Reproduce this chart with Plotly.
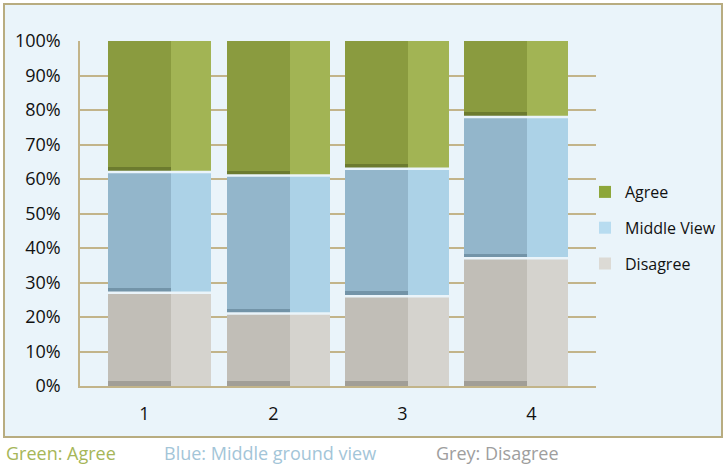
import numpy as np
import plotly.graph_objects as go

categories = ["1", "2", "3", "4"]
disagree = [27, 21, 26, 37]
middle = [35, 40, 37, 41]
agree = [38, 39, 37, 22]
series_names = ["Disagree", "Middle View", "Agree"]
y_ticks = [0, 10, 20, 30, 40, 50, 60, 70, 80, 90, 100]

W, H = 727, 468
L, R, T, B = 80, 131, 41, 82
PW, PH = W - L - R, H - T - B

def fx(px):
    return (px - L) / PW

def fy(py):
    return (H - B - py) / PH

BG = "#eaf4fa"
TAN = "#c2b48a"
face_cols = ["#c1beb7", "#93b6cb", "#8a9b3f"]
side_cols = ["#d5d3ce", "#acd2e7", "#a2b454"]
band_cols = ["#a19e97", "#7394a8", "#6c7b2f"]
legend_cols = ["#dcdad5", "#b8dcf0", "#8da63a"]
BAND = 1.4  # thickness (in %) of the shaded bottom edge of each block

xs = np.arange(1, len(categories) + 1)
vals = [np.array(disagree), np.array(middle), np.array(agree)]
bases = [np.zeros(len(xs)), vals[0], vals[0] + vals[1]]

fig = go.Figure()
face_w, side_w = 0.53, 0.34
face_off = -0.435
side_off = face_off + face_w
for i in range(3):
    fig.add_trace(go.Bar(x=xs, y=vals[i], base=bases[i], width=face_w, offset=face_off,
                         marker=dict(color=face_cols[i], line=dict(width=0)),
                         showlegend=False, hoverinfo="skip", xaxis="x2"))
    fig.add_trace(go.Bar(x=xs, y=np.full(len(xs), BAND), base=bases[i], width=face_w,
                         offset=face_off,
                         marker=dict(color=band_cols[i], line=dict(width=0)),
                         showlegend=False, hoverinfo="skip", xaxis="x2"))
    fig.add_trace(go.Bar(x=xs, y=vals[i], base=bases[i], width=side_w, offset=side_off,
                         marker=dict(color=side_cols[i], line=dict(width=0)),
                         showlegend=False, hoverinfo="skip", xaxis="x2"))

# separators between stacked segments
sx, sy = [], []
for b in bases[1:]:
    for c, v in zip(xs, b):
        sx += [c + face_off - 0.01, c + side_off + side_w + 0.01, None]
        sy += [v, v, None]
fig.add_trace(go.Scatter(x=sx, y=sy, mode="lines", line=dict(color=BG, width=2.5),
                         showlegend=False, hoverinfo="skip", xaxis="x2"))

# legend entries (on the labelled category axis)
for i in [2, 1, 0]:
    fig.add_trace(go.Bar(x=[None], y=[None], name=series_names[i],
                         marker=dict(color=legend_cols[i], line=dict(width=0)),
                         legendgroup=series_names[i]))

fig.add_shape(type="rect", xref="paper", yref="paper",
              x0=fx(4), x1=fx(722), y0=fy(437), y1=fy(4),
              fillcolor=BG, line=dict(color="#b8ac80", width=2), layer="below")

caps = [("Green: Agree", 5, "#a6b658"), ("Blue: Middle ground view", 163, "#a3c5d8"),
        ("Grey: Disagree", 435, "#9e9e9e")]
for txt, px, col in caps:
    fig.add_annotation(text=txt, xref="paper", yref="paper", x=fx(px), y=fy(453),
                       xanchor="left", yanchor="middle", showarrow=False, borderpad=0,
                       font=dict(family="Open Sans", size=18, color=col))

fig.update_layout(
    width=W, height=H, margin=dict(l=L, r=R, t=T, b=B, autoexpand=False),
    paper_bgcolor="white", plot_bgcolor="rgba(0,0,0,0)",
    barmode="overlay", bargap=0,
    font=dict(family="Open Sans", color="#111111"),
    showlegend=True,
    legend=dict(x=fx(585), y=fy(175), xanchor="left", yanchor="top",
                bgcolor="rgba(0,0,0,0)", font=dict(size=16, color="#111111"),
                traceorder="grouped", tracegroupgap=12, itemwidth=30),
    xaxis=dict(range=[0.5, 4.5], tickvals=list(xs), ticktext=categories,
               showgrid=False, zeroline=False, showline=True, linecolor=TAN, linewidth=1.5,
               tickfont=dict(size=18), ticks="", ticklabelstandoff=11, fixedrange=True),
    xaxis2=dict(range=[0.331, 4.674], overlaying="x", visible=False, fixedrange=True),
    yaxis=dict(range=[0, 100], tickvals=y_ticks, ticktext=[f"{v}%" for v in y_ticks],
               showgrid=True, gridcolor=TAN, gridwidth=1.5, zeroline=False,
               showline=True, linecolor=TAN, linewidth=1.5,
               tickfont=dict(size=18), ticks="", ticklabelstandoff=14, fixedrange=True),
)

fig.write_html("out.html")
